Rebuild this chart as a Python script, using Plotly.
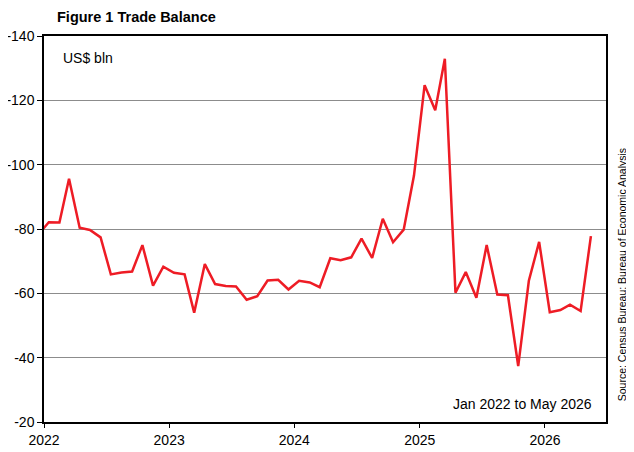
import plotly.graph_objects as go

# monthly trade balance, US$ bln (Dec 2021 point only feeds the clipped line at the left edge)
months = ["2021-12-15"] + [f"{y}-{m:02d}-15" for y in range(2022, 2027) for m in range(1, 13)][:53]
balance = [-78.2,
           -82.1, -82.0, -95.6, -80.4, -79.7, -77.4, -65.9, -66.5, -66.8, -75.0, -62.4, -68.3,
           -66.4, -65.9, -54.0, -69.1, -62.9, -62.3, -62.1, -58.0, -59.1, -64.0, -64.2, -61.2,
           -63.9, -63.4, -61.9, -70.9, -70.3, -71.2, -77.0, -71.0, -83.2, -75.9, -79.8, -96.6,
           -124.7, -116.9, -132.9, -60.2, -66.6, -58.6, -75.0, -59.6, -59.4, -37.4, -63.9, -76.0,
           -54.1, -54.8, -56.5, -54.5, -77.8]

year_ticks = ["2022-01-01", "2023-01-01", "2024-01-01", "2025-01-01", "2026-01-01"]
year_labels = ["2022", "2023", "2024", "2025", "2026"]
y_ticks = [-140, -120, -100, -80, -60, -40, -20]
y_labels = ["-140", "-120", "-100", "-80", "-60", "-40", "-20"]

fig = go.Figure()
fig.add_trace(go.Scatter(x=months, y=balance, mode="lines",
                         line=dict(color="#ee1c25", width=2.5), showlegend=False))

# page body adds an 8px offset, so the figure is 8px smaller than the window
fig.update_layout(
    width=626, height=444,
    margin=dict(l=36, r=28, t=28, b=30, autoexpand=False),
    paper_bgcolor="white", plot_bgcolor="white",
    font=dict(family="Liberation Sans, Arial", size=14, color="black"),
)
fig.update_xaxes(type="date", range=["2022-01-01", "2026-06-28"],
                 tickvals=year_ticks, ticktext=year_labels, automargin=False,
                 ticks="outside", ticklen=4, tickcolor="black",
                 showline=True, linecolor="black", linewidth=1.5, mirror=True,
                 showgrid=False, tickfont=dict(size=14))
fig.update_yaxes(range=[-20, -140], tickvals=y_ticks, ticktext=y_labels, automargin=False,
                 ticks="outside", ticklen=5, tickcolor="black",
                 showline=True, linecolor="black", linewidth=1.5, mirror=True,
                 showgrid=True, gridcolor="#8c8c8c", gridwidth=1.2,
                 zeroline=False, tickfont=dict(size=14))

fig.add_annotation(text="<b>Figure 1 Trade Balance</b>", xref="paper", yref="paper",
                   x=0.019, y=1.049, xanchor="left", yanchor="middle", showarrow=False,
                   font=dict(size=14.5))
fig.add_annotation(text="US$ bln", xref="paper", yref="paper",
                   x=0.03, y=0.97, xanchor="left", yanchor="top", showarrow=False,
                   font=dict(size=14))
fig.add_annotation(text="Jan 2022 to May 2026", xref="paper", yref="paper",
                   x=0.978, y=0.02, xanchor="right", yanchor="bottom", showarrow=False,
                   font=dict(size=14))
fig.add_annotation(text="Source: Census Bureau; Bureau of Economic Analysis",
                   xref="paper", yref="paper", x=1.029, y=0.381, textangle=-90,
                   xanchor="center", yanchor="middle", showarrow=False,
                   font=dict(size=10.5))

fig.write_html("out.html")
